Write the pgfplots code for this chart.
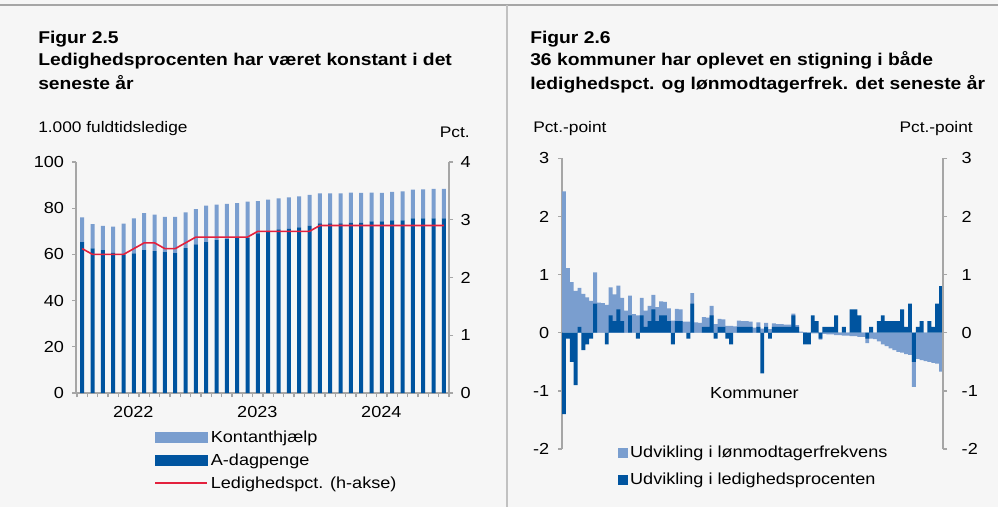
\documentclass[border=0pt]{standalone}
\usepackage{pgfplots}
\pgfplotsset{compat=1.18}
\usepackage{pgfplotstable}
\usepackage{fontspec}
\setmainfont{Liberation Sans}[FakeStretch=1.13]

\definecolor{lys}{HTML}{7A9ECF}
\definecolor{mork}{HTML}{00549F}
\definecolor{roed}{HTML}{E3213D}
\definecolor{bg}{HTML}{F6F6F6}
\definecolor{akse}{HTML}{A6A6A6}

% Figur 2.5: maaned, kontanthjaelp, a-dagpenge (1.000 fuldtidsledige), ledighedspct.
\pgfplotstableread{
m kontant adag led
1 10.7 65.3 2.5
2 10.5 62.6 2.4
3 10.5 61.8 2.4
4 11.2 60.8 2.4
5 13.3 60.0 2.4
6 15.2 60.4 2.5
7 16.1 61.8 2.6
8 15.8 61.4 2.6
9 15.2 61.0 2.5
10 15.7 60.5 2.5
11 15.5 62.7 2.6
12 15.3 64.3 2.7
13 15.8 65.3 2.7
14 15.4 66.2 2.7
15 15.3 66.6 2.7
16 15.1 67.1 2.7
17 15.6 67.2 2.7
18 14.0 69.1 2.8
19 14.0 69.7 2.8
20 13.4 70.8 2.8
21 13.6 71.1 2.8
22 13.4 71.7 2.8
23 13.3 72.5 2.8
24 13.0 73.4 2.9
25 13.0 73.4 2.9
26 13.0 73.4 2.9
27 12.9 73.8 2.9
28 12.8 73.8 2.9
29 12.4 74.3 2.9
30 12.3 74.3 2.9
31 12.4 74.7 2.9
32 12.6 74.7 2.9
33 12.4 75.6 2.9
34 12.6 75.6 2.9
35 12.8 75.6 2.9
36 12.8 75.6 2.9
}\ledighed

% Figur 2.6: kommune, udvikling i ledighedspct. (d) og loenmodtagerfrekvens (l)
\pgfplotstableread{
k d l
1 -1.4 2.43
2 -0.1 1.11
3 -0.5 0.87
4 -0.9 0.72
5 0.1 0.67
6 -0.3 0.67
7 -0.2 0.61
8 -0.1 0.55
9 0.5 0.54
10 0 0.52
11 0 0.51
12 -0.2 0.48
13 0.3 0.48
14 0.2 0.46
15 0.4 0.41
16 0.2 0.40
17 0 0.38
18 0.3 0.34
19 0 0.32
20 -0.1 0.30
21 0.3 0.30
22 0.1 0.28
23 0.2 0.26
24 0.4 0.25
25 0.2 0.24
26 0.3 0.24
27 0.3 0.23
28 0.2 0.22
29 -0.2 0.21
30 0.2 0.21
31 0.2 0.20
32 0 0.19
33 -0.1 0.19
34 0.5 0.18
35 0 0.18
36 0 0.17
37 0.1 0.17
38 0.1 0.16
39 0.3 0.16
40 -0.1 0.15
41 0.1 0.14
42 0.1 0.13
43 -0.1 0.12
44 -0.2 0.12
45 0 0.11
46 0.1 0.11
47 0.1 0.10
48 0.1 0.10
49 0.1 0.09
50 0 0.09
51 0.1 0.08
52 -0.7 0.07
53 0.1 0.07
54 -0.1 0.06
55 0.1 0.06
56 0.1 0.05
57 0.1 0.05
58 0.1 0.04
59 0.1 0.04
60 0.3 0.03
61 0.1 0.03
62 0 0.02
63 -0.2 0.01
64 -0.2 0.00
65 0.3 -0.01
66 0.2 -0.01
67 -0.1 -0.02
68 0.1 -0.02
69 0.1 -0.03
70 0.1 -0.03
71 0.3 -0.04
72 0 -0.04
73 0.1 -0.05
74 0 -0.05
75 0.4 -0.06
76 0.4 -0.06
77 0.3 -0.07
78 0 -0.07
79 -0.1 -0.08
80 0.1 -0.10
81 0 -0.11
82 0.2 -0.15
83 0.3 -0.20
84 0.2 -0.23
85 0.2 -0.27
86 0.2 -0.30
87 0.2 -0.33
88 0.4 -0.34
89 0.1 -0.37
90 0.5 -0.38
91 -0.5 -0.43
92 0.1 -0.45
93 0.2 -0.47
94 0 -0.49
95 0.2 -0.50
96 0.1 -0.52
97 0.5 -0.53
98 0.8 -0.67
}\kommuner

\pgfplotsset{
  base/.style={
    scale only axis,
    axis line style={draw=akse, line width=1pt},
    tick style={draw=akse, line width=1pt},
    tick align=outside,
    major tick length=3pt,
    ticklabel style={font=\fontsize{12}{14}\selectfont},
    /pgf/number format/assume math mode=true,
    clip=false,
  },
}

\begin{document}
\begin{tikzpicture}[x=0.75pt,y=0.75pt]
\fill[bg] (0,0) rectangle (998,507);
\useasboundingbox (0,0) rectangle (998,507);
\draw[akse, line width=1pt] (0,502) -- (998,502);
\draw[akse!70, line width=0.8pt] (507,502) -- (507,0);

% titles
\begin{scope}[every node/.style={anchor=base west, inner sep=0pt}]
\node[font=\fontsize{12.8}{15}\selectfont\bfseries] at (38,463) {Figur 2.5};
\node[font=\fontsize{12.8}{15}\selectfont\bfseries] at (38,441) {Ledighedsprocenten har været konstant i det};
\node[font=\fontsize{12.8}{15}\selectfont\bfseries] at (38,417) {seneste år};
\node[font=\fontsize{11.5}{14}\selectfont] at (38,374) {1.000 fuldtidsledige};
\node[font=\fontsize{11.5}{14}\selectfont, anchor=base east] at (470,369) {Pct.};
\node[font=\fontsize{12.8}{15}\selectfont\bfseries] at (530,463) {Figur 2.6};
\node[font=\fontsize{12.8}{15}\selectfont\bfseries] at (530,441) {36 kommuner har oplevet en stigning i både};
\node[font=\fontsize{12.8}{15}\selectfont\bfseries] at (530,417) {ledighedspct. og lønmodtagerfrek. det seneste år};
\node[font=\fontsize{11.5}{14}\selectfont] at (533,374) {Pct.-point};
\node[font=\fontsize{11.5}{14}\selectfont, anchor=base east] at (973,374) {Pct.-point};
\end{scope}

% Figur 2.5: bars
\begin{axis}[base,
  at={(57pt,85.5pt)}, anchor=south west,
  width=279.75pt, height=173.25pt,
  xmin=0.4, xmax=36.5, ymin=0, ymax=100,
  axis x line*=bottom, axis y line*=left,
  ybar stacked, bar width=3pt,
  xtick={0.5,1.5,...,36.5}, xticklabels={},
  extra x ticks={5.95,17.95,29.95},
  extra x tick labels={2022,2023,2024},
  extra x tick style={major tick length=0pt, tick label style={yshift=-6.5pt}},
  ytick={0,20,...,100},
  yticklabel style={xshift=-2.5pt},
]
\addplot[fill=mork, draw=none] table[x=m, y=adag] {\ledighed};
\addplot[fill=lys, draw=none] table[x=m, y=kontant] {\ledighed};
\end{axis}

% Figur 2.5: line on right axis
\begin{axis}[base,
  at={(57pt,85.5pt)}, anchor=south west,
  width=279.75pt, height=173.25pt,
  xmin=0.4, xmax=36.5, ymin=0, ymax=4,
  axis y line*=right, axis x line=none,
  ytick={0,1,...,4},
  yticklabel style={xshift=2.25pt},
  legend style={at={(0.21,-0.15)}, anchor=north west, draw=none, fill=none,
    font=\fontsize{12}{14}\selectfont, row sep=3pt, inner sep=0pt,
    nodes={inner sep=2pt}},
  legend cell align=left,
]
\addlegendimage{legend image code/.code={\fill[lys] (0pt,-3.75pt) rectangle (39pt,3.75pt);}}
\addlegendentry{Kontanthjælp}
\addlegendimage{legend image code/.code={\fill[mork] (0pt,-3.75pt) rectangle (39pt,3.75pt);}}
\addlegendentry{A-dagpenge}
\addplot[roed, line width=1.2pt, mark=none,
  legend image code/.code={\draw[roed, line width=1.2pt] (0pt,0pt) -- (39pt,0pt);}]
  table[x=m, y=led] {\ledighed};
\addlegendentry{Ledighedspct. (h-akse)}
\end{axis}

% Figur 2.6
\begin{axis}[base,
  at={(421.5pt,43.5pt)}, anchor=south west,
  width=285.75pt, height=218pt,
  xmin=0.5, xmax=98.5, ymin=-2, ymax=3,
  axis y line*=left, axis x line=none,
  ytick={-2,-1,...,3},
  yticklabel style={xshift=-3pt},
  legend style={at={(0.145,0.021)}, anchor=north west, draw=none, fill=none,
    font=\fontsize{12}{14}\selectfont, row sep=6pt, inner sep=0pt,
    nodes={inner sep=2pt}},
  legend cell align=left,
]
\addplot[ybar, bar width=1, bar shift=0pt, fill=lys, draw=none,
  legend image code/.code={\fill[lys] (0pt,-3.75pt) rectangle (7.5pt,3.75pt);}]
  table[x=k, y expr={\thisrow{l}+((\thisrow{d}*\thisrow{l})>0)*\thisrow{d}}] {\kommuner};
\addlegendentry{Udvikling i lønmodtagerfrekvens}
\addplot[ybar, bar width=1, bar shift=0pt, fill=mork, draw=none,
  legend image code/.code={\fill[mork] (0pt,-3.75pt) rectangle (7.5pt,3.75pt);}]
  table[x=k, y=d] {\kommuner};
\addlegendentry{Udvikling i ledighedsprocenten}
\node[font=\fontsize{12}{14}\selectfont] at (axis cs:50,-1.03) {Kommuner};
\end{axis}

\begin{axis}[base,
  at={(421.5pt,43.5pt)}, anchor=south west,
  width=285.75pt, height=218pt,
  xmin=0.5, xmax=98.5, ymin=-2, ymax=3,
  axis y line*=right, axis x line=none,
  ytick={-2,-1,...,3},
  yticklabel style={xshift=7.5pt},
]
\end{axis}
\end{tikzpicture}
\end{document}
